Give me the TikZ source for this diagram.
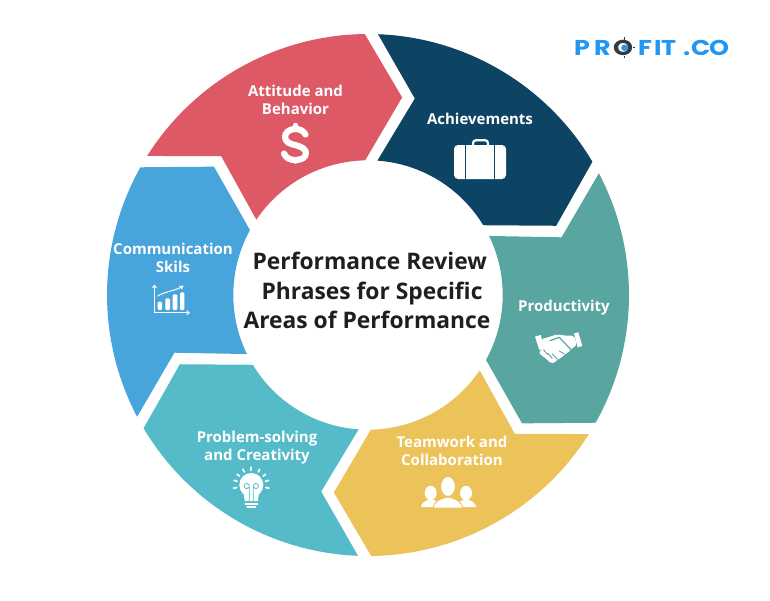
\documentclass[tikz,border=0pt]{standalone}
\usepackage{fontspec}
\usetikzlibrary{arrows.meta}
\setmainfont{Open Sans}
\newfontfamily\logofont[FakeStretch=1.18]{Poppins}
\definecolor{cRed}{HTML}{DC5965}
\definecolor{cNavy}{HTML}{0E4463}
\definecolor{cTeal}{HTML}{59A6A0}
\definecolor{cYellow}{HTML}{ECC359}
\definecolor{cAqua}{HTML}{55BBC8}
\definecolor{cBlue}{HTML}{48A5DC}
\definecolor{cLogo}{HTML}{2196F3}
\definecolor{cDark}{HTML}{333A40}
\tikzset{
  label text/.style={text=white,font=\fontsize{15}{18}\selectfont\bfseries,align=center,inner sep=0pt},
  title text/.style={text=black!88,font=\fontsize{22.8}{29.2}\selectfont\bfseries,align=left,inner sep=0pt},
  icon line/.style={draw=white,line cap=round,line join=round}
}
\newcommand{\petal}[2]{\fill[#1,rotate=#2] (87.8:261) arc[start angle=87.8,end angle=30.7,radius=261] -- (20.2:200.5) -- (31.2:134.7) arc[start angle=31.2,end angle=86,radius=134.7] -- (76.6:202) -- cycle;}
\newcommand{\lgl}[2]{\makebox[#1pt][l]{#2}}
\begin{document}
\begin{tikzpicture}[x=1pt,y=-1pt]
\useasboundingbox (0,0) rectangle (770,600);
\fill[white] (0,0) rectangle (770,600);
% wheel
\begin{scope}[shift={(368,295)},x=1pt,y=1pt]
\petal{cNavy}{0}
\petal{cRed}{60}
\petal{cBlue}{120}
\petal{cAqua}{180}
\petal{cYellow}{240}
\petal{cTeal}{300}
\end{scope}
% title
\node[title text] (title) at (367,290.5) {\hspace*{9pt}Performance Review\\\hspace*{18pt}Phrases for Specific\\Areas of Performance};
% labels
\node[label text] (attitude) at (295.5,100) {Attitude and\\Behavior};
\node[label text] (achieve) at (480,119) {Achievements};
\node[label text] (comm) at (173,258) {Communication\\Skils};
\node[label text] (prod) at (564,307.5) {Productivity};
\node[label text] (problem) at (257,448) {Problem-solving\\and Creativity};
\node[label text] (team) at (452,451) {Teamwork and\\Collaboration};
% logo
\node[anchor=base west,inner sep=0pt,text=cLogo,font=\logofont\fontsize{21.5}{21.5}\selectfont\bfseries] (logo) at (574,55) {\lgl{20}{P}\lgl{19}{R}\lgl{25}{\color{cDark}O}\lgl{16}{F}\lgl{7}{I}\lgl{22}{T}\lgl{8}{.}\lgl{18}{C}O};
\coordinate (ring) at (624.5,47.7);
\fill[cLogo] (ring) circle[radius=3.2pt];
\draw[cDark,line width=1.4pt] (ring) ++(0,-10.4) -- ++(0,2.6) (ring) ++(0,8) -- ++(0,2.6) (ring) ++(-10.4,0) -- ++(2.6,0) (ring) ++(8,0) -- ++(2.6,0);
% dollar
\draw[icon line,line width=6.2pt] (305.5,134.5) .. controls (303,130) and (299,129) .. (295,129) .. controls (289,129) and (285,133) .. (285,137) .. controls (285,142) and (290,144) .. (295,145) .. controls (301,146.5) and (306,149) .. (306,153) .. controls (306,158) and (301,160) .. (295,160) .. controls (290,160) and (286,158) .. (284,153.5);
\draw[icon line,line width=4.5pt] (295.5,125) -- (295.5,129) (295.5,160) -- (295.5,161.5);
% briefcase
\fill[white,rounded corners=4pt] (454,145) rectangle (506,179);
\draw[cNavy,line width=1pt] (465.5,145) -- (465.5,179) (494,145) -- (494,179);
\draw[white,line width=2.2pt,rounded corners=3pt] (473,146) -- (473,140.2) -- (488,140.2) -- (488,146);
% chart
\draw[white,line width=1pt,-{Straight Barb[length=2.5pt,width=4pt]}] (154.5,312.7) -- (154.5,284.5);
\draw[white,line width=1pt,-{Straight Barb[length=2.5pt,width=4pt]}] (154.5,312.7) -- (190,312.7);
\foreach \xa/\xb/\yy in {157.7/162/301.7,165.3/170/298.3,172.7/177.3/294.3,180/184.3/292.3}
  \fill[white,rounded corners=1.2pt] (\xa,\yy) rectangle (\xb,310);
\draw[white,line width=1pt,line cap=round] (157.7,296) .. controls (166,291) and (175,291) .. (182.5,286.5);
\fill[white] (183.5,285.5) -- (179,286) -- (182,289.5) -- cycle;
% handshake
\begin{scope}[shift={(500,290)},x=0.3333pt,y=-0.3333pt]
\fill[white] (105,140) -- (122,135) -- (135,175) -- (118,180) -- cycle;
\fill[white] (222,130) -- (235,127) -- (247,168) -- (233,172) -- cycle;
\fill[white,rounded corners=2pt] (125,147) -- (150,140) -- (172,133) -- (195,137) -- (222,137) -- (231,165) -- (212,178) -- (203,190) -- (193,192) -- (185,205) -- (175,205) -- (165,218) -- (152,220) -- (140,207) -- (125,197) -- (116,187) -- (133,172) -- cycle;
\draw[cTeal,line width=1.2pt,line cap=round,line join=round] (150,152) -- (178,142) -- (212,178);
\draw[cTeal,line width=0.9pt,line cap=round] (131,180) -- (143,193) (143,190) -- (157,205) (157,192) -- (172,208) (178,183) -- (193,192);
\end{scope}
% bulb
\begin{scope}[shift={(251.3,485)},x=1pt,y=1pt]
\foreach \an in {-10,15,37,62,90,118,143,165,190}
  \draw[white,line width=1.8pt,line cap=round] (\an:14.8) -- (\an:17.8);
\fill[white] (0,0) circle[radius=12pt];
\fill[white] (-8,-6) -- (8,-6) -- (6.5,-16) -- (-6.5,-16) -- cycle;
\draw[cAqua,line width=0.8pt] (-2,-16) -- (-2,-1) arc[start angle=0,end angle=330,radius=2.6pt];
\draw[cAqua,line width=0.8pt] (2,-16) -- (2,-1) arc[start angle=180,end angle=-150,radius=2.6pt];
\draw[white,line width=2pt,line cap=round] (-6,-18.5) -- (6,-18.5);
\draw[white,line width=2pt,line cap=round] (-4,-21.5) -- (4,-21.5);
\end{scope}
% people
\fill[white] (430.7,493) ellipse[x radius=6pt,y radius=7.2pt];
\fill[white] (466,493) ellipse[x radius=6pt,y radius=7.2pt];
\fill[white] (421,507) .. controls (421,503) and (426,500) .. (431,499.5) .. controls (436,500) and (440,503) .. (441,507) -- cycle;
\fill[white] (476,507) .. controls (476,503) and (471,500) .. (466,499.5) .. controls (461,500) and (457,503) .. (456,507) -- cycle;
\fill[white,draw=cYellow,line width=0.9pt] (433,508) .. controls (433,502) and (441,498) .. (448,497) .. controls (455,498) and (462,502) .. (463,508) -- cycle;
\fill[white,draw=cYellow,line width=0.9pt] (448,486.5) ellipse[x radius=7.4pt,y radius=10pt];
\end{tikzpicture}
\end{document}
